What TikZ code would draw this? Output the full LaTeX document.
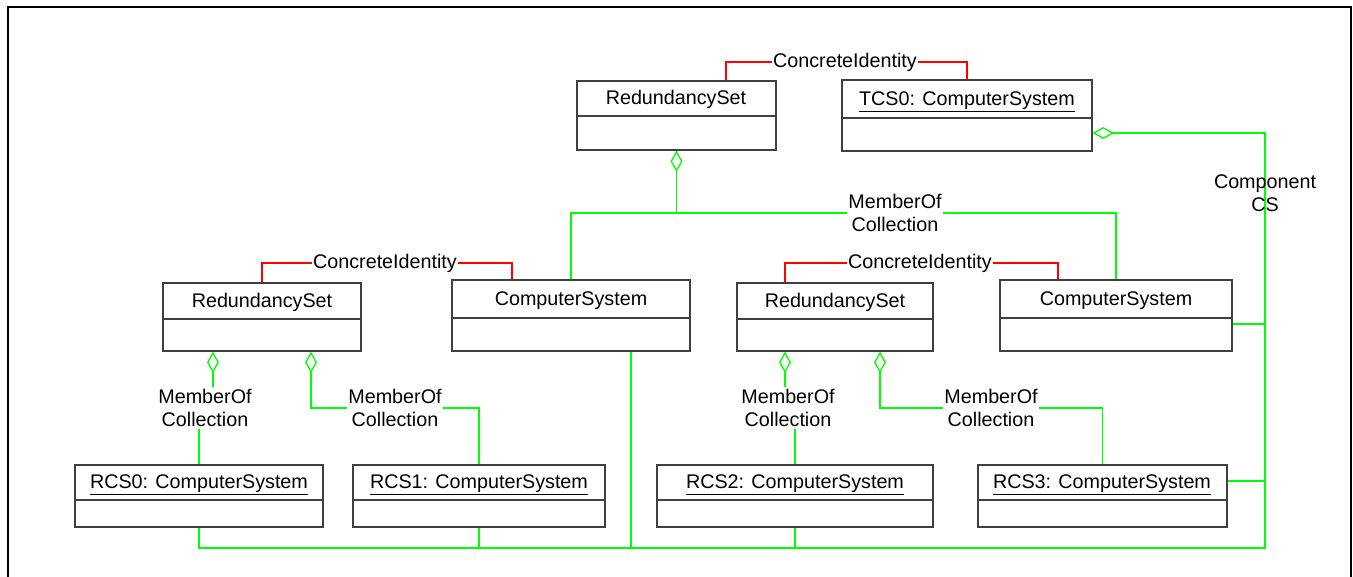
\documentclass[tikz,border=0pt]{standalone}
\usepackage{fontspec}
\setmainfont{Liberation Sans}
\definecolor{UMLgreen}{HTML}{00FF00}
\definecolor{UMLred}{HTML}{FF0000}
\definecolor{UMLgray}{HTML}{404040}
\usetikzlibrary{arrows.meta, calc, fit, positioning}

\begin{document}
\begin{tikzpicture}[x=0.75pt, y=-0.75pt,
      every node/.style={font=\fontsize{14.8}{17.5}\selectfont},
      cls/.style={draw=UMLgray, line width=0.9pt, inner sep=0pt,
         path picture={\draw[UMLgray, line width=0.9pt]
            ($(path picture bounding box.north west)+(0,#1)$) --
            ($(path picture bounding box.north east)+(0,#1)$);}},
      title/.style={anchor=base, inner sep=0pt},
      assoc/.style={UMLred, line width=0.8pt},
      member/.style={UMLgreen, line width=0.8pt},
      compbus/.style={UMLgreen, line width=2.2pt},
      agg/.style={{Diamond[open, length=16pt, width=9pt, line width=1pt]}-},
      rolelbl/.style={inner sep=1pt, align=center}]
   \useasboundingbox (0,0) rectangle (1353,576);
   % Frame
   \draw[line width=1.6pt] (8,577) -- (8,7) -- (1351,7) -- (1351,577);
   % Classes, top row
   \node[cls=35, fit={(577,81) (776,150)}] (rsTop) {};
   \node[title] (rsTopName) at (676,104) {RedundancySet};
   \node[cls=38, fit={(842,80) (1092,151)}] (tcs0) {};
   \node[title] (tcs0Name) at (967,105) {\underline{TCS0: ComputerSystem}};
   % Classes, middle row
   \node[cls=36, fit={(163,283) (361,351)}] (rsL) {};
   \node[title] (rsLName) at (262,307) {RedundancySet};
   \node[cls=38, fit={(452,280) (690,351)}] (csL) {};
   \node[title] (csLName) at (571,305) {ComputerSystem};
   \node[cls=36, fit={(737,283) (933,351)}] (rsR) {};
   \node[title] (rsRName) at (835,307) {RedundancySet};
   \node[cls=38, fit={(1000,280) (1232,351)}] (csR) {};
   \node[title] (csRName) at (1116,305) {ComputerSystem};
   % Classes, bottom row
   \node[cls=35, fit={(75,465) (323,527)}] (rcs0) {};
   \node[title] (rcs0Name) at (199,488) {\underline{RCS0: ComputerSystem}};
   \node[cls=35, fit={(353,465) (605,527)}] (rcs1) {};
   \node[title] (rcs1Name) at (479,488) {\underline{RCS1: ComputerSystem}};
   \node[cls=35, fit={(657,465) (933,527)}] (rcs2) {};
   \node[title] (rcs2Name) at (795,488) {\underline{RCS2: ComputerSystem}};
   \node[cls=35, fit={(978,465) (1227,527)}] (rcs3) {};
   \node[title] (rcs3Name) at (1102,488) {\underline{RCS3: ComputerSystem}};
   % ConcreteIdentity (red)
   \node[rolelbl] (ciTop) at (845,62) {ConcreteIdentity};
   \draw[assoc] (rsTop.north -| 726,0) |- (ciTop) -| (tcs0.north);
   \node[rolelbl] (ciL) at (385,263) {ConcreteIdentity};
   \draw[assoc] (rsL.north) |- (ciL) -| (csL.north -| 512,0);
   \node[rolelbl] (ciR) at (920,263) {ConcreteIdentity};
   \draw[assoc] (rsR.north -| 785,0) |- (ciR) -| (csR.north -| 1058,0);
   % MemberOfCollection (green)
   \node[rolelbl] (moTop) at (895,213) {MemberOf\\Collection};
   \draw[member, agg] (rsTop.south) -- (rsTop.south |- moTop);
   \draw[member] (csL.north) |- (moTop) -| (csR.north);
   \node[rolelbl] (moA) at (205,408) {MemberOf\\Collection};
   \draw[member, agg] (rsL.south -| 213,0) -- (moA.north -| 213,0);
   \draw[member] (moA.south -| rcs0.north) -- (rcs0.north);
   \node[rolelbl] (moB) at (395,408) {MemberOf\\Collection};
   \draw[member, agg] (rsL.south -| 311,0) |- (moB);
   \draw[member] (moB) -| (rcs1.north);
   \node[rolelbl] (moC) at (788,408) {MemberOf\\Collection};
   \draw[member, agg] (rsR.south -| 785,0) -- (moC.north -| 785,0);
   \draw[member] (moC.south -| rcs2.north) -- (rcs2.north);
   \node[rolelbl] (moD) at (991,408) {MemberOf\\Collection};
   \draw[member, agg] (rsR.south -| 880,0) |- (moD);
   \draw[member] (moD) -| (rcs3.north);
   % ComponentCS (thick green bus)
   \coordinate (busEnd) at (1265,548);
   \draw[compbus, agg] (tcs0.east |- 0,133) -| (busEnd) -- (rcs1.south |- busEnd);
   \node[rolelbl] (compLbl) at (1265,193) {Component\\CS};
   \draw[member] (rcs0.south) |- (rcs1.south |- busEnd);
   \draw[member] (rcs1.south) -- (rcs1.south |- busEnd);
   \draw[member] (csL.south -| 631,0) -- (busEnd -| 631,0);
   \draw[member] (rcs2.south) -- (rcs2.south |- busEnd);
   \draw[member] (csR.east |- 0,324) -- (busEnd |- 0,324);
   \draw[member] (rcs3.east |- 0,481) -- (busEnd |- 0,481);
\end{tikzpicture}
\end{document}
